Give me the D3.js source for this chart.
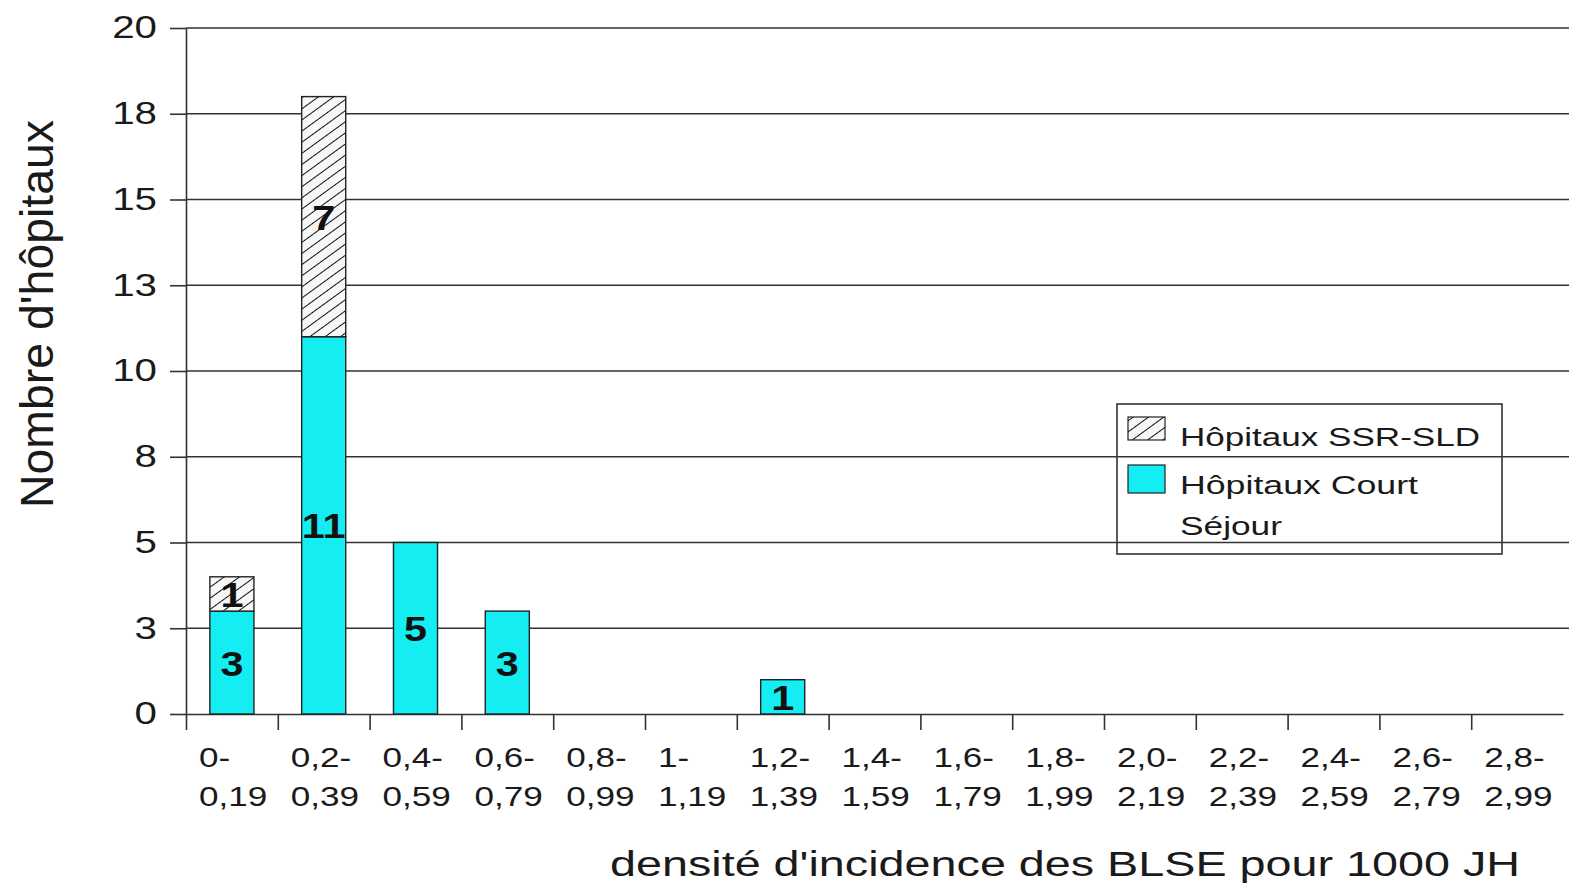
<!DOCTYPE html>
<html lang="fr">
  <head>
    <meta charset="utf-8" />
    <title>BLSE</title>
    <script src="https://cdnjs.cloudflare.com/ajax/libs/d3/7.8.5/d3.min.js"></script>
    <style>
      body {
        margin: 0;
        background: #fff;
      }
      svg text {
        font-family: "Liberation Sans", Arial, sans-serif;
        fill: #1a1a1a;
      }
      .grid line {
        stroke: #333;
        stroke-width: 1.6px;
      }
      .axis path,
      .axis line {
        stroke: #333;
        stroke-width: 1.6px;
      }
    </style>
  </head>
  <body>
    <svg id="chart" width="1569" height="885"></svg>
    <script>
      // data
      const labelTop = ["0-", "0,2-", "0,4-", "0,6-", "0,8-", "1-", "1,2-", "1,4-",
        "1,6-", "1,8-", "2,0-", "2,2-", "2,4-", "2,6-", "2,8-"];
      const labelBottom = ["0,19", "0,39", "0,59", "0,79", "0,99", "1,19", "1,39", "1,59",
        "1,79", "1,99", "2,19", "2,39", "2,59", "2,79", "2,99"];
      const courtSejour = [3, 11, 5, 3, 0, 0, 1, 0, 0, 0, 0, 0, 0, 0, 0];
      const ssrSld = [1, 7, 0, 0, 0, 0, 0, 0, 0, 0, 0, 0, 0, 0, 0];
      const yTicks = [0, 2.5, 5, 7.5, 10, 12.5, 15, 17.5, 20];
      const yTickLabels = ["0", "3", "5", "8", "10", "13", "15", "18", "20"];
      const seriesNames = ["Hôpitaux Court Séjour", "Hôpitaux SSR-SLD"];

      const W = 1569, H = 885;
      const margin = { top: 28, right: 6, bottom: 171, left: 186 };
      const stretch = 1.3; // the picture's horizontal text is wide

      const svg = d3.select("#chart");

      // hatch pattern
      const defs = svg.append("defs");
      const pat = defs.append("pattern")
        .attr("id", "hatch")
        .attr("patternUnits", "userSpaceOnUse")
        .attr("width", 9)
        .attr("height", 9)
        .attr("patternTransform", "rotate(-36)");
      pat.append("rect").attr("width", 9).attr("height", 9).attr("fill", "#f7f7f7");
      pat.append("line")
        .attr("x1", 0).attr("x2", 9).attr("y1", 4.5).attr("y2", 4.5)
        .attr("stroke", "#111").attr("stroke-width", 1);

      const cats = d3.range(labelTop.length);
      const x = d3.scaleBand().domain(cats).range([margin.left, W - margin.right]).padding(0);
      const xEdge = d3.scaleLinear().domain([0, cats.length]).range([margin.left, W - margin.right]);
      const y = d3.scaleLinear().domain([0, 20]).range([H - margin.bottom, margin.top]);

      // gridlines
      svg.append("g")
        .attr("class", "grid")
        .selectAll("line")
        .data(yTicks.slice(1))
        .join("line")
        .attr("x1", margin.left)
        .attr("x2", W)
        .attr("y1", (d) => y(d))
        .attr("y2", (d) => y(d));

      // y axis
      const yAxis = svg.append("g")
        .attr("class", "axis")
        .attr("transform", `translate(${margin.left},0)`)
        .call(d3.axisLeft(y).tickValues(yTicks)
          .tickFormat((d, i) => yTickLabels[i])
          .tickSize(16).tickSizeOuter(0).tickPadding(13));
      yAxis.selectAll("text")
        .style("font-size", "31px")
        .attr("x", -29 / stretch)
        .attr("transform", `scale(${stretch},1)`);

      // x axis (ticks on the class boundaries)
      svg.append("g")
        .attr("class", "axis")
        .attr("transform", `translate(0,${y(0)})`)
        .call(d3.axisBottom(xEdge).tickValues(cats).tickFormat("").tickSize(16).tickSizeOuter(0));

      // bars
      const table = cats.map((i) => ({ i, court: courtSejour[i], ssr: ssrSld[i] }));
      const stacked = d3.stack().keys(["court", "ssr"])(table);
      const fills = { court: "#14eef3", ssr: "url(#hatch)" };
      const barW = x.bandwidth() * 0.48;

      stacked.forEach((layer) => {
        const segs = layer.filter((d) => d[1] - d[0] > 0);
        svg.append("g")
          .selectAll("rect")
          .data(segs)
          .join("rect")
          .attr("x", (d) => x(d.data.i) + (x.bandwidth() - barW) / 2)
          .attr("width", barW)
          .attr("y", (d) => y(d[1]))
          .attr("height", (d) => y(d[0]) - y(d[1]))
          .attr("fill", fills[layer.key])
          .attr("stroke", "#222")
          .attr("stroke-width", 1.4);
        svg.append("g")
          .selectAll("text")
          .data(segs)
          .join("text")
          .attr("transform", (d) =>
            `translate(${x(d.data.i) + x.bandwidth() / 2},${y((d[0] + d[1]) / 2)}) scale(1.15,1)`)
          .attr("text-anchor", "middle")
          .attr("dy", "0.36em")
          .style("font-size", "36px")
          .style("font-weight", "bold")
          .style("fill", "#111")
          .text((d) => d[1] - d[0]);
      });

      // x tick labels, two lines
      const xl = svg.append("g").selectAll("g").data(cats).join("g")
        .attr("transform", (d) => `translate(${x(d) + 13},0) scale(${stretch},1)`);
      xl.append("text").attr("y", 767).style("font-size", "27px").text((d) => labelTop[d]);
      xl.append("text").attr("y", 806).style("font-size", "27px").text((d) => labelBottom[d]);

      // axis titles
      svg.append("text")
        .attr("x", 610)
        .attr("y", 876)
        .attr("textLength", 910)
        .attr("lengthAdjust", "spacingAndGlyphs")
        .style("font-size", "35px")
        .text("densité d'incidence des BLSE pour 1000 JH");

      svg.append("text")
        .attr("transform", "translate(53,314) rotate(-90)")
        .attr("text-anchor", "middle")
        .attr("textLength", 388)
        .attr("lengthAdjust", "spacingAndGlyphs")
        .style("font-size", "46px")
        .text("Nombre d'hôpitaux");

      // legend
      const lg = svg.append("g");
      lg.append("rect")
        .attr("x", 1117).attr("y", 404).attr("width", 385).attr("height", 150)
        .attr("fill", "none").attr("stroke", "#333").attr("stroke-width", 1.6);
      lg.append("rect")
        .attr("x", 1128).attr("y", 417).attr("width", 37).attr("height", 23)
        .attr("fill", fills.ssr).attr("stroke", "#222").attr("stroke-width", 1.2);
      lg.append("rect")
        .attr("x", 1128).attr("y", 465).attr("width", 37).attr("height", 28)
        .attr("fill", fills.court).attr("stroke", "#222").attr("stroke-width", 1.2);
      lg.append("text").attr("x", 1180).attr("y", 446)
        .attr("textLength", 300).attr("lengthAdjust", "spacingAndGlyphs")
        .style("font-size", "25px").text(seriesNames[1]);
      lg.append("text").attr("x", 1180).attr("y", 494)
        .attr("textLength", 238).attr("lengthAdjust", "spacingAndGlyphs")
        .style("font-size", "25px").text(seriesNames[0].split(" ").slice(0, 2).join(" "));
      lg.append("text").attr("x", 1180).attr("y", 535)
        .attr("textLength", 102).attr("lengthAdjust", "spacingAndGlyphs")
        .style("font-size", "25px").text(seriesNames[0].split(" ")[2]);
    </script>
  </body>
</html>
